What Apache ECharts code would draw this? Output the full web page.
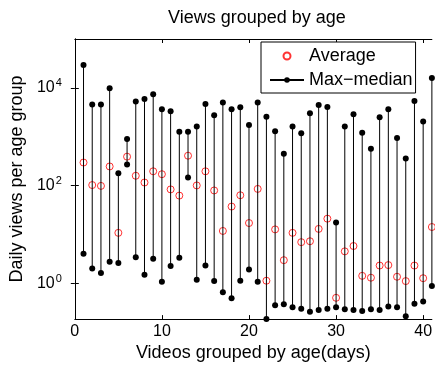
<!DOCTYPE html>
<html lang="en">
<head>
    <meta charset="UTF-8">
    <title>Views grouped by age</title>
    <script src="https://cdn.jsdelivr.net/npm/echarts@6/dist/echarts.min.js"></script>
    <style>
        html, body { margin: 0; padding: 0; background: #fff; }
        #chart { width: 435px; height: 367px; }
    </style>
</head>
<body>
<div id="chart"></div>
<script type="text/javascript">
    // age in days (x positions)
    var ages = [1, 2, 3, 4, 5, 6, 7, 8, 9, 10, 11, 12, 13, 14, 15, 16, 17, 18, 19, 20,
        21, 22, 23, 24, 25, 26, 27, 28, 29, 30, 31, 32, 33, 34, 35, 36, 37, 38, 39, 40, 41];
    // max daily views per age group
    var maxViews = [29500, 4570, 4570, 9770, 178, 891, 5250, 5890, 7410, 3630,
        3310, 1260, 1260, 1620, 4680, 2750, 5010, 3630, 3980, 1740,
        5010, 2570, 1290, 447, 1620, 1170, 3020, 4470, 4070, 17.4,
        1620, 2880, 1200, 562, 2510, 3630, 933, 355, 5370, 2040, 15800];
    // median daily views per age group
    var medianViews = [3.98, 2.0, 1.62, 2.75, 2.57, 269, 3.39, 1.48, 3.16, 1.07,
        2.24, 3.31, 145, 1.17, 2.29, 1.10, 0.65, 0.49, 1.12, 1.91,
        1.07, 0.1832, 0.35, 0.37, 0.32, 0.30, 0.26, 0.28, 0.30, 0.32,
        0.29, 0.28, 0.27, 0.29, 0.28, 0.33, 0.32, 0.21, 0.38, 0.42, 0.87];
    // average daily views per age group
    var avgViews = [295, 102, 98, 245, 10.7, 389, 158, 115, 195, 170,
        83, 62, 407, 100, 195, 79, 11.7, 37, 63, 17,
        85, 1.12, 12.6, 2.95, 10.7, 6.9, 7.2, 12.9, 20.9, 0.50,
        4.47, 5.75, 1.41, 1.29, 2.29, 2.34, 1.35, 1.10, 2.29, 1.26, 14.1];
    var xTicks = [0, 10, 20, 30, 40];
    var yTicks = [1, 100, 10000];

    var chart = echarts.init(document.getElementById('chart'));

    // median -> max segments, broken with '-' between groups
    var segData = [];
    var avgData = [];
    for (var i = 0; i < ages.length; i++) {
        segData.push([ages[i], medianViews[i]]);
        segData.push([ages[i], maxViews[i]]);
        segData.push([ages[i], '-']);
        avgData.push([ages[i], avgViews[i]]);
    }

    var font = '"Liberation Sans", Arial, Helvetica, sans-serif';

    chart.setOption({
        animation: false,
        backgroundColor: '#fff',
        textStyle: { fontFamily: font, color: '#000' },
        title: {
            text: 'Views grouped by age',
            left: 168,
            top: 9,
            padding: 0,
            textStyle: { fontFamily: font, fontSize: 18, fontWeight: 'normal', color: '#000' }
        },
        legend: {
            orient: 'vertical',
            left: 261,
            top: 42,
            padding: [5, 3, 4, 8],
            itemGap: 6,
            itemWidth: 34,
            itemHeight: 7,
            borderColor: '#000',
            borderWidth: 1,
            borderRadius: 0,
            backgroundColor: '#fff',
            data: ['Average', 'Max\u2212median'],
            textStyle: { fontFamily: font, fontSize: 18, lineHeight: 18, color: '#000' }
        },
        grid: { left: 72, right: 1, top: 39, bottom: 42 },
        xAxis: [{
            type: 'value',
            min: 0,
            max: 41,
            interval: 10,
            name: 'Videos grouped by age(days)',
            nameLocation: 'middle',
            nameGap: 21,
            nameTextStyle: { fontFamily: font, fontSize: 18, color: '#000' },
            axisLine: { show: true, lineStyle: { color: '#000', width: 1 } },
            axisTick: { inside: true, length: 4, lineStyle: { color: '#000' }, customValues: xTicks },
            axisLabel: {
                fontFamily: font, fontSize: 16, color: '#000', margin: 4,
                customValues: xTicks
            },
            splitLine: { show: false }
        }, {
            type: 'value',
            position: 'top',
            min: 0,
            max: 41,
            interval: 10,
            axisLine: { show: true, lineStyle: { color: '#000', width: 1 } },
            axisTick: { inside: true, length: 4, lineStyle: { color: '#000' }, customValues: xTicks },
            axisLabel: { show: false },
            splitLine: { show: false }
        }],
        yAxis: [{
            type: 'log',
            logBase: 10,
            min: 0.1832,
            max: 100000,
            name: 'Daily views per age group',
            nameLocation: 'middle',
            nameGap: 44,
            nameTextStyle: { fontFamily: font, fontSize: 18, color: '#000' },
            axisLine: { show: true, lineStyle: { color: '#000', width: 1 } },
            axisTick: { inside: true, length: 4, lineStyle: { color: '#000' }, customValues: yTicks },
            axisLabel: {
                margin: 13,
                customValues: yTicks,
                formatter: function (v) {
                    return '{b|10}{s|' + Math.round(Math.log10(v)) + '}';
                },
                rich: {
                    b: { fontFamily: font, fontSize: 16, color: '#000' },
                    s: { fontFamily: font, fontSize: 11, color: '#000', padding: [0, 0, 9, 1] }
                }
            },
            splitLine: { show: false }
        }, {
            type: 'log',
            logBase: 10,
            min: 0.1832,
            max: 100000,
            position: 'right',
            axisLine: { show: true, lineStyle: { color: '#000', width: 1 } },
            axisTick: { inside: true, length: 4, lineStyle: { color: '#000' }, customValues: yTicks },
            axisLabel: { show: false },
            splitLine: { show: false }
        }],
        series: [
            {
                name: 'Max\u2212median',
                type: 'line',
                data: segData,
                connectNulls: false,
                symbol: 'circle',
                symbolSize: 6,
                showSymbol: true,
                clip: false,
                lineStyle: { color: '#000', width: 1 },
                itemStyle: { color: '#000' }
            },
            {
                name: 'Average',
                type: 'scatter',
                data: avgData,
                symbol: 'circle',
                symbolSize: 7,
                clip: false,
                itemStyle: { color: 'transparent', borderColor: '#ff0000', borderWidth: 1 }
            }
        ]
    });
</script>
</body>
</html>
